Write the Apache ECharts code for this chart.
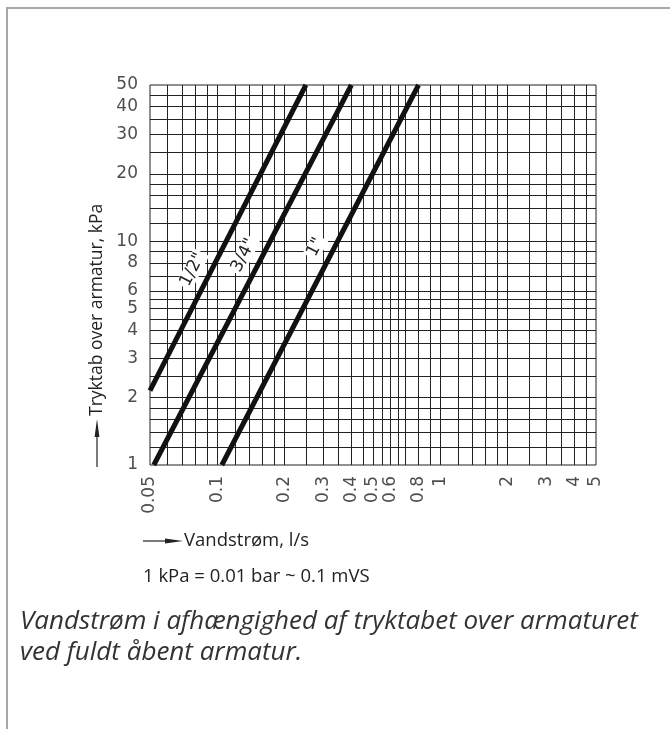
<!DOCTYPE html>
<html><head><meta charset="utf-8">
<script src="https://cdn.jsdelivr.net/npm/echarts@6/dist/echarts.min.js"></script>
<style>
html,body{margin:0;padding:0;background:#fff;}
#frame{position:absolute;left:6px;top:7px;width:670px;height:730px;border-top:2px solid #a8a8a8;border-left:2px solid #a8a8a8;}
#chart{position:absolute;left:0;top:0;width:670px;height:729px;}
</style></head><body>
<div id="frame"></div><div id="chart"></div>
<script>
// ---- data ----
const xTickLabels = [0.05, 0.1, 0.2, 0.3, 0.4, 0.5, 0.6, 0.8, 1, 2, 3, 4, 5];
const yTickLabels = [1, 2, 3, 4, 5, 6, 8, 10, 20, 30, 40, 50];
const xGridLines = [0.06, 0.07, 0.08, 0.09, 0.1, 0.12, 0.14, 0.16, 0.18, 0.2, 0.25, 0.3, 0.35, 0.4, 0.45, 0.5, 0.55, 0.6, 0.65, 0.7, 0.8, 0.9, 1, 1.2, 1.4, 1.6, 1.8, 2, 2.5, 3, 3.5, 4, 4.5];
const yGridLines = [1.2, 1.4, 1.6, 1.8, 2, 2.5, 3, 3.5, 4, 4.5, 5, 5.5, 6, 7, 8, 9, 10, 12, 14, 16, 18, 20, 25, 30, 35, 40, 45];
const valveNames = ['1/2"', '3/4"', '1"'];
const flowHalf = [0.05, 0.25];
const lossHalf = [2.15, 50];
const flowThreeQuarter = [0.052, 0.4];
const lossThreeQuarter = [1, 50];
const flowOne = [0.105, 0.8];
const lossOne = [1, 50];
// pressure (kPa) at which each valve label sits along its line
const labelAnchorKPa = [6.9, 8.0, 8.7];

const curves = [
  [flowHalf, lossHalf],
  [flowThreeQuarter, lossThreeQuarter],
  [flowOne, lossOne]
];

function pointsOf(c) { return c[0].map((q, i) => [q, c[1][i]]); }
function flowAt(c, p) {
  const [q0, q1] = c[0], [p0, p1] = c[1];
  const t = Math.log(p / p0) / Math.log(p1 / p0);
  return q0 * Math.pow(q1 / q0, t);
}

const textColor = '#222';
const series = [];

// grid lines
series.push({
  type: 'line', data: [], silent: true, z: 1,
  markLine: {
    silent: true, z: 1, animation: false, symbol: ['none', 'none'],
    label: { show: false },
    lineStyle: { type: 'solid', color: '#222', width: 1 },
    emphasis: { disabled: true },
    data: xGridLines.map(v => ({ xAxis: v })).concat(yGridLines.map(v => ({ yAxis: v })))
  }
});

curves.forEach((c, i) => {
  const p = labelAnchorKPa[i];
  series.push({
    type: 'line', name: valveNames[i], data: pointsOf(c), z: 5,
    showSymbol: false, symbol: 'none', silent: true,
    lineStyle: { color: '#111', width: 5 },
    markPoint: {
      silent: true, z: 6, symbolSize: 0, animation: false,
      data: [{ coord: [flowAt(c, p), p], name: valveNames[i] }],
      label: {
        show: true, formatter: '{b}', rotate: 63, offset: [0, -17],
        color: textColor, fontFamily: 'DejaVu Sans', fontSize: 17,
        backgroundColor: '#fff', padding: [0, 2]
      }
    }
  });
});

// tick labels
series.push({
  type: 'scatter', silent: true, clip: false, symbolSize: 0, z: 4,
  data: xTickLabels.map(v => [v, yTickLabels[0]]),
  label: {
    show: true, position: 'bottom', distance: 11, rotate: 90,
    align: 'right', verticalAlign: 'middle',
    formatter: p => String(p.value[0]),
    color: textColor, fontFamily: 'DejaVu Sans', fontSize: 17
  }
});
series.push({
  type: 'scatter', silent: true, clip: false, symbolSize: 0, z: 4,
  data: yTickLabels.map(v => [xTickLabels[0], v]),
  label: {
    show: true, position: 'left', distance: 12,
    formatter: p => String(p.value[1]),
    color: textColor, fontFamily: 'DejaVu Sans', fontSize: 17
  }
});

const chart = echarts.init(document.getElementById('chart'), null, { renderer: 'canvas' });
chart.setOption({
  animation: false,
  backgroundColor: 'transparent',
  grid: { left: 150, top: 85, right: 74, bottom: 264, show: true, borderColor: '#222', borderWidth: 1, backgroundColor: 'transparent' },
  xAxis: { type: 'log', logBase: 10, min: 0.05, max: 5, axisLabel: { show: false }, axisTick: { show: false }, axisLine: { show: false }, splitLine: { show: false }, minorSplitLine: { show: false } },
  yAxis: { type: 'log', logBase: 10, min: 1, max: 50, axisLabel: { show: false }, axisTick: { show: false }, axisLine: { show: false }, splitLine: { show: false } },
  tooltip: { show: false },
  series: series,
  graphic: [
    { type: 'line', shape: { x1: 97, y1: 467, x2: 97, y2: 432 }, style: { stroke: '#222', lineWidth: 1.2 } },
    { type: 'polygon', shape: { points: [[97, 419], [94.6, 437], [99.4, 437]] }, style: { fill: '#222' } },
    { type: 'text', x: 97, y: 416, rotation: Math.PI / 2, style: { text: 'Tryktab over armatur, kPa', align: 'left', verticalAlign: 'middle', fill: textColor, font: '17.5px "Open Sans"' } },
    { type: 'line', shape: { x1: 143, y1: 541, x2: 168, y2: 541 }, style: { stroke: '#222', lineWidth: 1.2 } },
    { type: 'polygon', shape: { points: [[183, 541], [165, 538.6], [165, 543.4]] }, style: { fill: '#222' } },
    { type: 'text', x: 184, y: 541, style: { text: 'Vandstrøm, l/s', align: 'left', verticalAlign: 'middle', fill: textColor, font: '18.5px "Open Sans"' } },
    { type: 'text', x: 143, y: 577, style: { text: '1 kPa = 0.01 bar ~ 0.1 mVS', align: 'left', verticalAlign: 'middle', fill: textColor, font: '18.5px "Open Sans"' } },
    { type: 'text', x: 20, y: 622, style: { text: 'Vandstrøm i afhængighed af tryktabet over armaturet', align: 'left', verticalAlign: 'middle', fill: '#333', font: 'italic 26px "Open Sans"' } },
    { type: 'text', x: 20, y: 653, style: { text: 'ved fuldt åbent armatur.', align: 'left', verticalAlign: 'middle', fill: '#333', font: 'italic 26px "Open Sans"' } }
  ]
});
</script>
</body></html>
